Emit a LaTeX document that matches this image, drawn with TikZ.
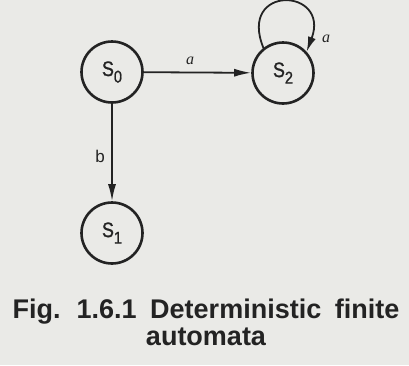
\documentclass[tikz,border=0pt]{standalone}
\usepackage{fontspec}
\setmainfont{Liberation Sans}
\newfontfamily\statefont[FakeStretch=0.85,FakeBold=1]{Liberation Sans}
\newfontfamily\labserif{Liberation Serif}
\newfontfamily\capfont[WordSpace=1.8]{Liberation Sans}
\usetikzlibrary{arrows.meta}
\definecolor{bg}{RGB}{234,234,231}
\definecolor{ink}{RGB}{35,35,35}
\tikzset{
  state/.style={circle, draw=ink, line width=2.6pt, minimum size=61pt, inner sep=0pt, text=ink},
  edge/.style={draw=ink, line width=1.8pt, -{Latex[length=17pt,width=8pt]}},
  elab/.style={text=ink, inner sep=0pt},
  caption/.style={text=ink, anchor=base, inner sep=0pt, font=\capfont\bfseries\fontsize{27}{27}\selectfont}
}
\newcommand{\stlab}[1]{{\statefont\fontsize{21}{21}\selectfont S\raisebox{-6.5pt}{\fontsize{17}{17}\selectfont #1}}}
\begin{document}
\begin{tikzpicture}[x=1pt,y=-1pt]
\fill[bg] (0,0) rectangle (409,365);
\useasboundingbox (0,0) rectangle (409,365);
\node[state] (s0) at (112,72) {\stlab{0}};
\node[state] (s2) at (283,73) {\stlab{2}};
\node[state] (s1) at (112,233) {\stlab{1}};
\draw[edge] (s0) -- (s2);
\draw[edge] (s0) -- (s1);
\draw[edge, -{Latex[length=15pt,width=8pt]}] (s2.128) .. controls +(-26,-64) and +(24,-64) .. (s2.42);
\node[elab] (la1) at (190,61) {\labserif\itshape\fontsize{16}{16}\selectfont a};
\node[elab] (la2) at (326,39) {\labserif\itshape\fontsize{16}{16}\selectfont a};
\node[elab] (lb) at (100,156) {\fontsize{17}{17}\selectfont b};
\node[caption] (cap1) at (206,318) {Fig. 1.6.1 Deterministic finite};
\node[caption] (cap2) at (206,345.5) {automata};
\end{tikzpicture}
\end{document}
